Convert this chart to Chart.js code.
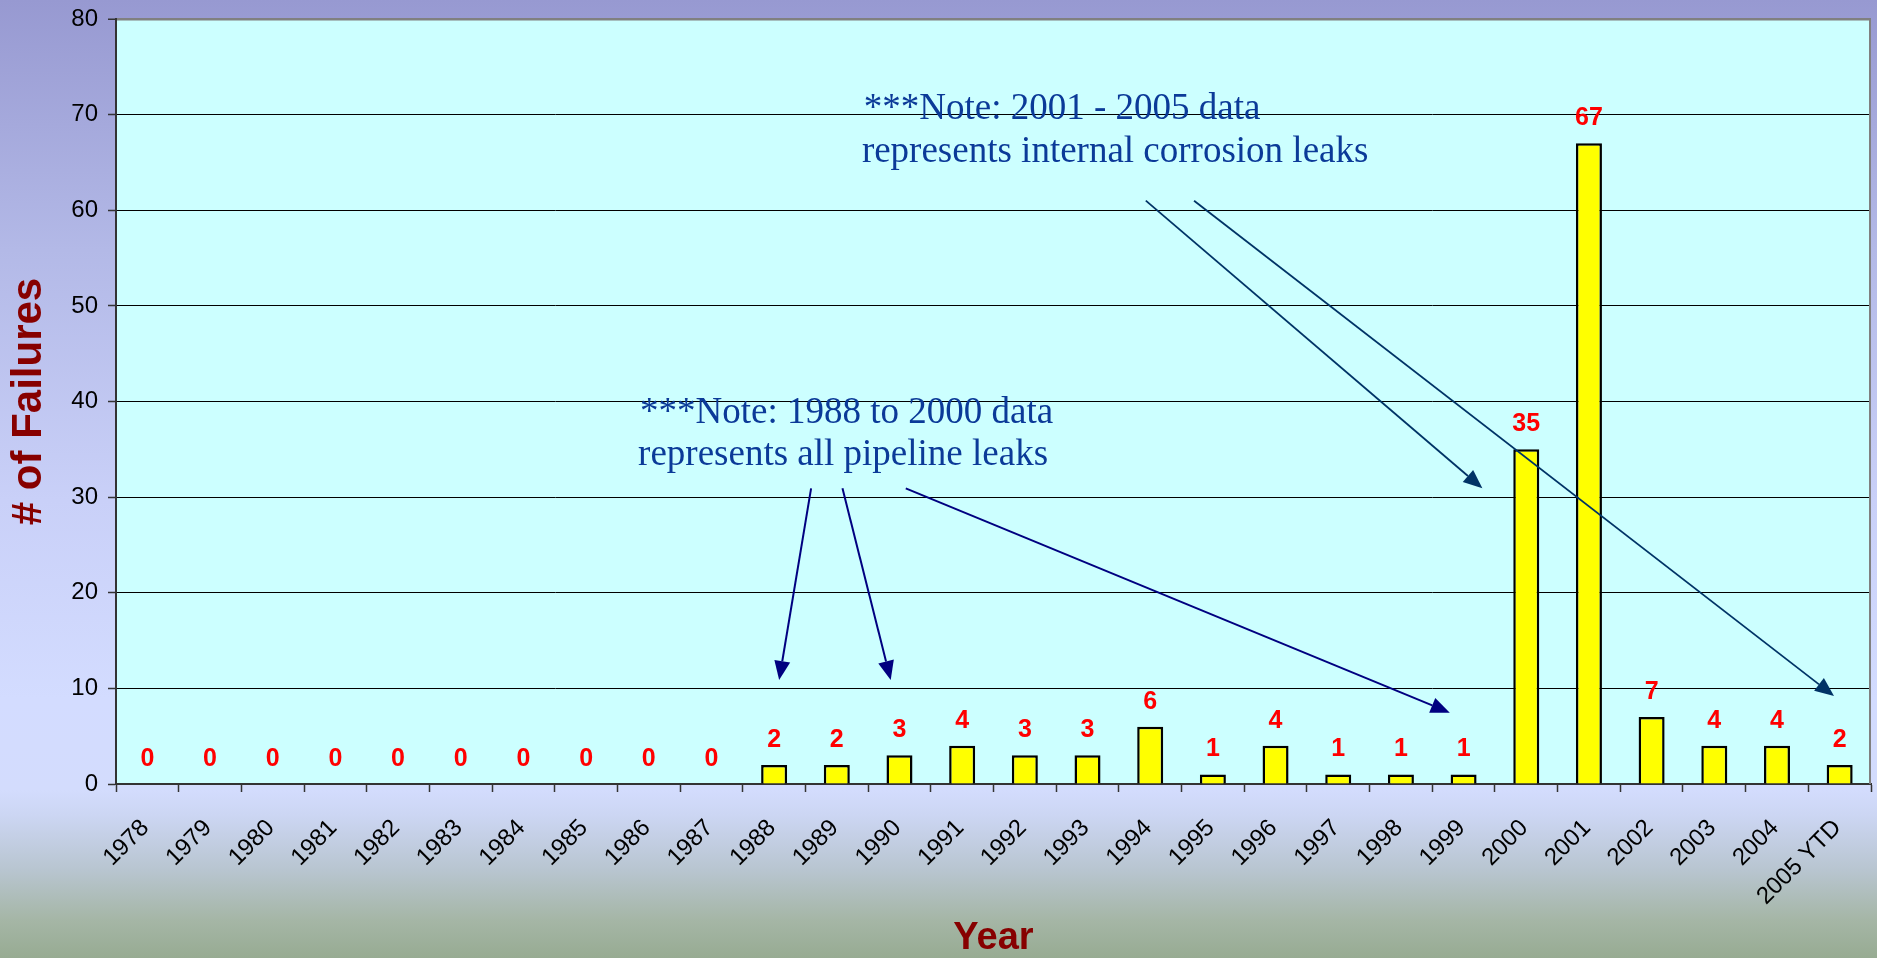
<!DOCTYPE html>
<html>
<head>
<meta charset="utf-8">
<script src="https://cdn.jsdelivr.net/npm/chart.js@4.4.0/dist/chart.umd.min.js"></script>
<style>
  html, body { margin: 0; padding: 0; width: 1877px; height: 958px; overflow: hidden; }
  body {
    background: linear-gradient(to bottom,
      #9799d1 0px, #b3b9e7 250px, #c9d0f8 500px, #d3dcff 700px,
      #d3dcfd 790px, #ccd6f3 815px, #b8c5d0 870px, #a5b6a6 920px, #97ab92 958px);
  }
  #wrap { position: relative; width: 1877px; height: 958px; }
  canvas { display: block; }
</style>
</head>
<body>
<div id="wrap"><canvas id="c" width="1877" height="958"></canvas></div>
<script>
// ---- data ----
const categories = ['1978','1979','1980','1981','1982','1983','1984','1985','1986','1987',
  '1988','1989','1990','1991','1992','1993','1994','1995','1996','1997','1998','1999',
  '2000','2001','2002','2003','2004','2005 YTD'];
const failures = [0,0,0,0,0,0,0,0,0,0, 2,2,3,4,3,3,6,1,4,1,1,1, 35,67,7,4,4,2];
const yTickValues = [0,10,20,30,40,50,60,70,80];
const yAxisTitle = '# of Failures';
const xAxisTitle = 'Year';

// annotation notes: [categoryIndex (fractional), value, text]
const note1Lines = [[7.86, 37.78, '***Note: 1988 to 2000 data'], [7.83, 33.36, 'represents all pipeline leaks']];
const note2Lines = [[11.43, 69.54, '***Note: 2001 - 2005 data'], [11.40, 65.08, 'represents internal corrosion leaks']];
// arrows: [fromIndex, fromValue, toIndex, toValue]
const note1Arrows = [[10.59, 30.92, 10.08, 10.88], [11.09, 30.92, 11.86, 10.88], [12.10, 30.92, 20.78, 7.46]];
const note2Arrows = [[15.93, 61.0, 21.30, 30.92], [16.70, 61.0, 26.91, 9.2]];

const SANS = "'Liberation Sans', Arial, sans-serif";
const SERIF = "'Liberation Serif', 'Times New Roman', serif";

const plotBg = {
  id: 'plotBg',
  beforeDraw(chart) {
    const {ctx, chartArea: a} = chart;
    ctx.save();
    ctx.fillStyle = '#ccffff';
    ctx.fillRect(a.left, a.top, a.right - a.left, a.bottom - a.top);
    ctx.restore();
  },
  afterDatasetsDraw(chart) {
    const {ctx, chartArea: a} = chart;
    ctx.save();
    ctx.strokeStyle = '#808080';
    ctx.lineWidth = 2;
    ctx.beginPath();
    ctx.moveTo(a.right - 1, a.top);
    ctx.lineTo(a.right - 1, a.bottom);
    ctx.stroke();
    ctx.restore();
  }
};

const valueLabels = {
  id: 'valueLabels',
  afterDatasetsDraw(chart) {
    const {ctx} = chart;
    const meta = chart.getDatasetMeta(0);
    ctx.save();
    ctx.fillStyle = '#ff0000';
    ctx.font = 'bold 25px ' + SANS;
    ctx.textAlign = 'center';
    ctx.textBaseline = 'alphabetic';
    meta.data.forEach((bar, i) => {
      ctx.fillText(String(failures[i]), bar.x, bar.y - 18);
    });
    ctx.restore();
  }
};

function drawArrow(ctx, x0, y0, x1, y1, color, lw) {
  const ang = Math.atan2(y1 - y0, x1 - x0);
  const hl = 19, hw = 8;
  const bx = x1 - hl * Math.cos(ang), by = y1 - hl * Math.sin(ang);
  ctx.strokeStyle = color;
  ctx.fillStyle = color;
  ctx.lineWidth = lw;
  ctx.beginPath();
  ctx.moveTo(x0, y0);
  ctx.lineTo(bx, by);
  ctx.stroke();
  ctx.beginPath();
  ctx.moveTo(x1, y1);
  ctx.lineTo(bx + hw * Math.sin(ang), by - hw * Math.cos(ang));
  ctx.lineTo(bx - hw * Math.sin(ang), by + hw * Math.cos(ang));
  ctx.closePath();
  ctx.fill();
}

const notes = {
  id: 'notes',
  afterDraw(chart) {
    const {ctx} = chart;
    const xs = chart.scales.x, ys = chart.scales.y;
    const px = v => xs.getPixelForValue(v);
    const py = v => ys.getPixelForValue(v);
    ctx.save();
    ctx.font = '37px ' + SERIF;
    ctx.fillStyle = '#0b3a98';
    ctx.textAlign = 'left';
    ctx.textBaseline = 'alphabetic';
    [...note1Lines, ...note2Lines].forEach(([i, v, t]) => ctx.fillText(t, px(i), py(v)));
    note1Arrows.forEach(([a, b, c, d]) => drawArrow(ctx, px(a), py(b), px(c), py(d), '#000080', 2));
    note2Arrows.forEach(([a, b, c, d]) => drawArrow(ctx, px(a), py(b), px(c), py(d), '#003366', 1.8));
    ctx.restore();
  }
};

new Chart(document.getElementById('c'), {
  type: 'bar',
  data: {
    labels: categories,
    datasets: [{
      data: failures,
      backgroundColor: '#ffff00',
      borderColor: '#000000',
      borderWidth: 2.5,
      categoryPercentage: 1,
      barPercentage: 0.415
    }]
  },
  options: {
    responsive: false,
    animation: false,
    devicePixelRatio: 1,
    layout: { padding: { top: 19, right: 6, left: 0, bottom: 0 } },
    plugins: { legend: { display: false }, tooltip: { enabled: false }, title: { display: false } },
    scales: {
      x: {
        type: 'category',
        offset: true,
        grid: { offset: true, drawOnChartArea: false, drawTicks: true, tickLength: 8, tickColor: '#333333', tickWidth: 1.5 },
        border: { color: '#333333', width: 2 },
        ticks: {
          color: '#000000', autoSkip: false, minRotation: 45, maxRotation: 45, padding: 22, labelOffset: -2,
          font: { family: SANS, size: 24 }
        },
        title: {
          display: true, text: xAxisTitle, color: '#870000', padding: 0,
          font: { family: SANS, size: 38, weight: 'bold', lineHeight: 1 }
        },
        afterFit(s) { s.height = 174; s.paddingLeft = 0; s.paddingRight = 0; }
      },
      y: {
        min: 0, max: 80,
        afterBuildTicks(s) { s.ticks = yTickValues.map(v => ({ value: v })); },
        ticks: { color: '#000000', padding: 10, font: { family: SANS, size: 24 } },
        grid: {
          color: c => c.tick.value === 80 ? '#808080' : (c.tick.value === 0 ? 'rgba(0,0,0,0)' : '#000000'),
          lineWidth: c => c.tick.value === 80 ? 2.5 : 1,
          tickLength: 8, tickColor: '#333333', tickWidth: 1.5
        },
        border: { color: '#333333', width: 2 },
        title: {
          display: true, text: yAxisTitle, color: '#870000', padding: { top: 8, bottom: 0 },
          font: { family: SANS, size: 42, weight: 'bold', lineHeight: 1 }
        },
        afterFit(s) { s.width = 116; s.paddingTop = 0; s.paddingBottom = 0; }
      }
    }
  },
  plugins: [plotBg, valueLabels, notes]
});
</script>
</body>
</html>
